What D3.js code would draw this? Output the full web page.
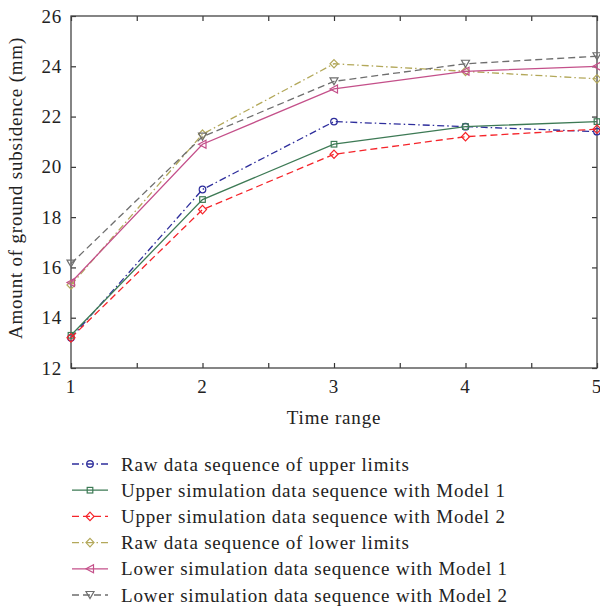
<!DOCTYPE html>
<html>
<head>
<meta charset="utf-8">
<script src="https://cdn.jsdelivr.net/npm/d3@7"></script>
<style>
  body { margin: 0; background: #fff; }
  svg { font-family: "Liberation Serif", "DejaVu Serif", serif; }
  svg text { letter-spacing: 0.8px; }
</style>
</head>
<body>
<div id="chart"></div>
<script>
const timeRange = [1, 2, 3, 4, 5]
const rawUpper = [13.2, 19.1, 21.8, 21.6, 21.4]
const upperModel1 = [13.3, 18.7, 20.9, 21.6, 21.8]
const upperModel2 = [13.2, 18.3, 20.5, 21.2, 21.5]
const rawLower = [15.3, 21.3, 24.1, 23.8, 23.5]
const lowerModel1 = [15.4, 20.9, 23.1, 23.8, 24.0]
const lowerModel2 = [16.15, 21.2, 23.4, 24.1, 24.4]
const yTicks = [12, 14, 16, 18, 20, 22, 24, 26]

const series = [
  {name: 'Raw data sequence of upper limits', values: rawUpper, color: '#2e2e9c', dash: '7,3,1.5,3', marker: 'circle'},
  {name: 'Upper simulation data sequence with Model 1', values: upperModel1, color: '#3d7a55', dash: null, marker: 'square'},
  {name: 'Upper simulation data sequence with Model 2', values: upperModel2, color: '#f5242a', dash: '7,4', marker: 'diamond'},
  {name: 'Raw data sequence of lower limits', values: rawLower, color: '#b3a85a', dash: '7,3,1.5,3', marker: 'diamond'},
  {name: 'Lower simulation data sequence with Model 1', values: lowerModel1, color: '#c4508a', dash: null, marker: 'left'},
  {name: 'Lower simulation data sequence with Model 2', values: lowerModel2, color: '#6e6e6e', dash: '7,4', marker: 'down'}
]

const width = 600, height = 613
const margin = {top: 16, right: 3, bottom: 245, left: 71}
const w = width - margin.left - margin.right
const h = height - margin.top - margin.bottom
const fs = 19

const svg = d3.select('#chart').append('svg')
  .attr('width', width)
  .attr('height', height)

const g = svg.append('g')
  .attr('transform', `translate(${margin.left},${margin.top})`)

const x = d3.scaleLinear().domain([1, 5]).range([0, w])
const y = d3.scaleLinear().domain([12, 26]).range([h, 0])

const xMinor = d3.range(1, 5.01, 0.5)

// ticks inside the box, all four sides
g.append('g').attr('transform', `translate(0,${h})`)
  .call(d3.axisBottom(x).tickValues(xMinor).tickSize(-5).tickFormat(''))
g.append('g')
  .call(d3.axisTop(x).tickValues(xMinor).tickSize(-5).tickFormat(''))
g.append('g')
  .call(d3.axisLeft(y).tickValues(yTicks).tickSize(-5).tickFormat(''))
g.append('g').attr('transform', `translate(${w},0)`)
  .call(d3.axisRight(y).tickValues(yTicks).tickSize(-5).tickFormat(''))
g.selectAll('.domain').remove()
g.selectAll('.tick line').attr('stroke', '#333').attr('stroke-width', 1.2)

g.append('rect')
  .attr('width', w).attr('height', h)
  .attr('fill', 'none').attr('stroke', '#444').attr('stroke-width', 1.3)

// tick labels
g.selectAll('.xlab').data(timeRange).enter().append('text')
  .attr('x', d => x(d)).attr('y', h + 25)
  .attr('text-anchor', 'middle').attr('font-size', fs).attr('fill', '#222')
  .text(d => d)
g.selectAll('.ylab').data(yTicks).enter().append('text')
  .attr('x', -9).attr('y', d => y(d) + 6.5)
  .attr('text-anchor', 'end').attr('font-size', fs).attr('fill', '#222')
  .text(d => d)

g.append('text')
  .attr('x', w / 2).attr('y', h + 56)
  .attr('text-anchor', 'middle').attr('font-size', fs).attr('fill', '#222')
  .text('Time range')
g.append('text')
  .attr('transform', `translate(${-49},${172}) rotate(-90)`)
  .attr('text-anchor', 'middle').attr('font-size', fs).attr('fill', '#222')
  .text('Amount of ground subsidence (mm)')

function drawMarker(sel, type, color) {
  const r = 3.3
  if (type === 'circle') {
    sel.append('circle').attr('r', r)
  } else if (type === 'square') {
    sel.append('rect').attr('x', -2.8).attr('y', -2.8).attr('width', 5.6).attr('height', 5.6)
  } else if (type === 'diamond') {
    sel.append('path').attr('d', `M0,${-4.2}L4,0L0,4.2L-4,0Z`)
  } else if (type === 'left') {
    sel.append('path').attr('d', `M-4,0L3.5,-4L3.5,4Z`)
  } else if (type === 'down') {
    sel.append('path').attr('d', `M-4,-3.5L4,-3.5L0,3.5Z`)
  }
  sel.selectAll('*').attr('fill', 'none').attr('stroke', color).attr('stroke-width', 1.2)
}

const line = d3.line().x((d, i) => x(timeRange[i])).y(d => y(d))

series.forEach(s => {
  g.append('path')
    .datum(s.values)
    .attr('d', line)
    .attr('fill', 'none')
    .attr('stroke', s.color)
    .attr('stroke-width', 1.3)
    .attr('stroke-dasharray', s.dash)
  s.values.forEach((v, i) => {
    const m = g.append('g').attr('transform', `translate(${x(timeRange[i])},${y(v)})`)
    drawMarker(m, s.marker, s.color)
  })
})

// legend
const legend = svg.append('g').attr('transform', 'translate(72,464)')
series.forEach((s, i) => {
  const row = legend.append('g').attr('transform', `translate(0,${i * 26.2})`)
  row.append('line')
    .attr('x1', 0).attr('x2', 36)
    .attr('stroke', s.color).attr('stroke-width', 1.3)
    .attr('stroke-dasharray', s.dash)
  const m = row.append('g').attr('transform', 'translate(18,0)')
  drawMarker(m, s.marker, s.color)
  row.append('text')
    .attr('x', 49).attr('y', 6.5)
    .attr('font-size', fs).attr('fill', '#222')
    .text(s.name)
})
</script>
</body>
</html>
